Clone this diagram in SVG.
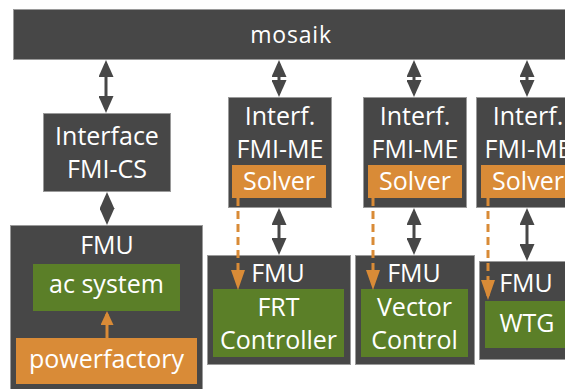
<svg xmlns="http://www.w3.org/2000/svg" width="565" height="389" viewBox="0 0 565 389">
<defs>
<style>
.dk{fill:#474747;stroke:#9a9a9a;stroke-width:1}
.gr{fill:#5b7f28}
.or{fill:#d98b37}
.t{font-family:"Open Sans","Noto Sans","DejaVu Sans",sans-serif;font-size:25px;font-weight:500;fill:#ffffff;text-anchor:middle}
.ca{stroke:#474747;stroke-width:3;fill:none}
.oa{stroke:#d98b37;stroke-width:3;fill:none}
.dash{stroke-dasharray:8 5}
</style>
<marker id="hd" markerUnits="userSpaceOnUse" viewBox="0 0 17 15" refX="13" refY="7.5" markerWidth="17" markerHeight="15" orient="auto-start-reverse">
<path d="M0,0 L17,7.5 L0,15 z" fill="#474747"/>
</marker>
<marker id="ho" markerUnits="userSpaceOnUse" viewBox="0 0 20 14" refX="16" refY="7" markerWidth="20" markerHeight="14" orient="auto">
<path d="M0,0 L20,7 L0,14 z" fill="#d98b37"/>
</marker>
<marker id="hos" markerUnits="userSpaceOnUse" viewBox="0 0 14 13" refX="11" refY="6.5" markerWidth="14" markerHeight="13" orient="auto">
<path d="M0,0 L14,6.5 L0,13 z" fill="#d98b37"/>
</marker>
</defs>

<g id="mosaik">
<rect class="dk" x="13.5" y="9.5" width="560" height="50"/>
<text class="t" x="291" y="43" style="font-size:23px;letter-spacing:0.8px">mosaik</text>
</g>

<g id="interface-cs">
<rect class="dk" x="43.5" y="113.5" width="127" height="78"/>
<text class="t" x="107" y="145">Interface</text>
<text class="t" x="107" y="178">FMI-CS</text>
</g>

<g id="fmu-left">
<rect class="dk" x="10.5" y="225.5" width="192" height="170"/>
<text class="t" x="107" y="254">FMU</text>
</g>
<g id="ac-system">
<rect class="gr" x="33" y="264" width="147" height="47"/>
<text class="t" x="106.5" y="293">ac system</text>
</g>
<g id="powerfactory">
<rect class="or" x="16" y="338" width="181" height="46"/>
<text class="t" x="106.5" y="368">powerfactory</text>
</g>

<g id="interf-me-1">
<rect class="dk" x="228.5" y="97.5" width="103" height="110"/>
<text class="t" x="280" y="125">Interf.</text>
<text class="t" x="280" y="158">FMI-ME</text>
</g>
<g id="solver-1">
<rect class="or" x="232" y="165" width="94" height="33"/>
<text class="t" x="279" y="190">Solver</text>
</g>

<g id="interf-me-2">
<rect class="dk" x="363.5" y="97.5" width="103" height="110"/>
<text class="t" x="415" y="125">Interf.</text>
<text class="t" x="415" y="158">FMI-ME</text>
</g>
<g id="solver-2">
<rect class="or" x="368" y="165" width="94" height="33"/>
<text class="t" x="415" y="190">Solver</text>
</g>

<g id="interf-me-3">
<rect class="dk" x="476.5" y="97.5" width="103" height="110"/>
<text class="t" x="528" y="125">Interf.</text>
<text class="t" x="528" y="158">FMI-ME</text>
</g>
<g id="solver-3">
<rect class="or" x="481" y="165" width="94" height="33"/>
<text class="t" x="528" y="190">Solver</text>
</g>

<g id="fmu-1">
<rect class="dk" x="207.5" y="255.5" width="143" height="109"/>
<text class="t" x="278" y="282">FMU</text>
</g>
<g id="frt-controller">
<rect class="gr" x="213" y="289" width="131" height="68"/>
<text class="t" x="278.5" y="316">FRT</text>
<text class="t" x="278.5" y="349">Controller</text>
</g>

<g id="fmu-2">
<rect class="dk" x="355.5" y="255.5" width="119" height="109"/>
<text class="t" x="414" y="282">FMU</text>
</g>
<g id="vector-control">
<rect class="gr" x="361" y="289" width="107" height="68"/>
<text class="t" x="414.5" y="316">Vector</text>
<text class="t" x="414.5" y="349">Control</text>
</g>

<g id="fmu-3">
<rect class="dk" x="479.5" y="261.5" width="100" height="98"/>
<text class="t" x="526" y="292">FMU</text>
</g>
<g id="wtg">
<rect class="gr" x="485" y="301" width="90" height="47"/>
<text class="t" x="527" y="332">WTG</text>
</g>

<g id="connectors">
<line class="ca" x1="106" y1="64" x2="106" y2="109" marker-start="url(#hd)" marker-end="url(#hd)"/>
<line class="ca" x1="279" y1="64" x2="279" y2="93" marker-start="url(#hd)" marker-end="url(#hd)"/>
<line class="ca" x1="414" y1="64" x2="414" y2="93" marker-start="url(#hd)" marker-end="url(#hd)"/>
<line class="ca" x1="527" y1="64" x2="527" y2="93" marker-start="url(#hd)" marker-end="url(#hd)"/>
<line class="ca" x1="107" y1="196" x2="107" y2="221" marker-start="url(#hd)" marker-end="url(#hd)"/>
<line class="ca" x1="279" y1="212" x2="279" y2="251" marker-start="url(#hd)" marker-end="url(#hd)"/>
<line class="ca" x1="414" y1="212" x2="414" y2="251" marker-start="url(#hd)" marker-end="url(#hd)"/>
<line class="ca" x1="527" y1="212" x2="527" y2="257" marker-start="url(#hd)" marker-end="url(#hd)"/>
<line class="oa" x1="107" y1="338" x2="107" y2="314" marker-end="url(#hos)"/>
<line class="oa dash" x1="238" y1="198" x2="238" y2="286" marker-end="url(#ho)"/>
<line class="oa dash" x1="373" y1="198" x2="373" y2="286" marker-end="url(#ho)"/>
<line class="oa dash" x1="488" y1="198" x2="488" y2="296" marker-end="url(#ho)"/>
</g>
</svg>
